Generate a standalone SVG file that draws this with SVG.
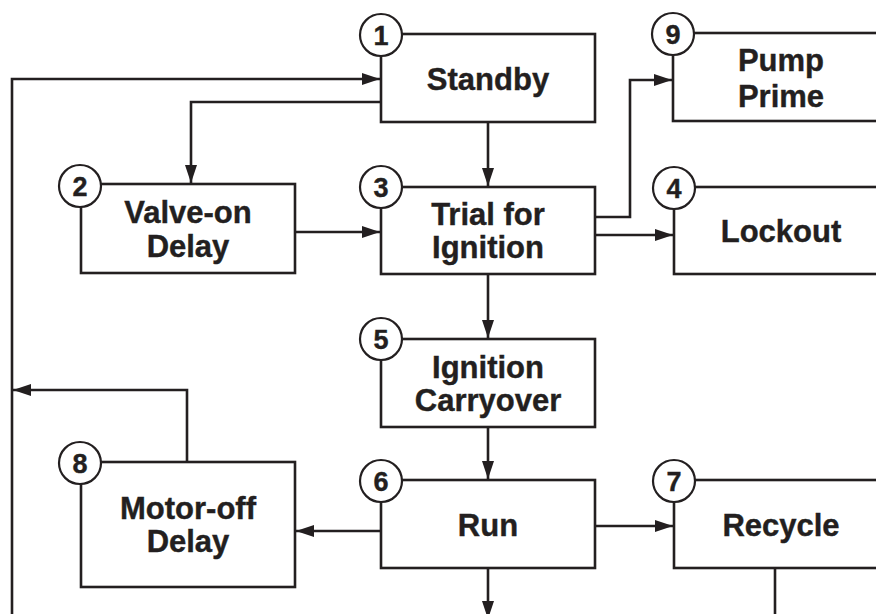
<svg xmlns="http://www.w3.org/2000/svg" width="876" height="614" viewBox="0 0 876 614">
  <style>
    .box { fill: #fff; stroke: #231f20; stroke-width: 2.6; }
    .num { fill: #fff; stroke: #231f20; stroke-width: 2.2; }
    .lbl { font-family: "Liberation Sans", Arial, sans-serif; font-weight: bold; font-size: 31px; fill: #231f20; stroke: #231f20; stroke-width: 0.4; text-anchor: middle; }
    .n { font-family: "Liberation Sans", Arial, sans-serif; font-weight: bold; font-size: 27px; fill: #231f20; stroke: #231f20; stroke-width: 0.4; text-anchor: middle; }
    .wire { fill: none; stroke: #231f20; stroke-width: 2.6; }
  </style>
  <defs>
    <marker id="ah" viewBox="0 0 18 12" refX="18" refY="6" markerWidth="18" markerHeight="12" markerUnits="userSpaceOnUse" orient="auto">
      <path d="M0,0 L18,6 L0,12 z" fill="#231f20"/>
    </marker>
  </defs>
  <rect width="876" height="614" fill="#fff"/>

  <g id="connectors">
    <path class="wire" d="M12,620 V79 H380" marker-end="url(#ah)"/>
    <path class="wire" d="M381,102 H191 V183" marker-end="url(#ah)"/>
    <path class="wire" d="M488,122 V186" marker-end="url(#ah)"/>
    <path class="wire" d="M295,232 H380" marker-end="url(#ah)"/>
    <path class="wire" d="M595,217 H630 V80 H672" marker-end="url(#ah)"/>
    <path class="wire" d="M595,235 H673" marker-end="url(#ah)"/>
    <path class="wire" d="M488,274 V338" marker-end="url(#ah)"/>
    <path class="wire" d="M488,427 V479" marker-end="url(#ah)"/>
    <path class="wire" d="M381,531 H296" marker-end="url(#ah)"/>
    <path class="wire" d="M187,462 V390 H13" marker-end="url(#ah)"/>
    <path class="wire" d="M595,526 H673" marker-end="url(#ah)"/>
    <path class="wire" d="M488,568 V619" marker-end="url(#ah)"/>
    <path class="wire" d="M775,568 V616"/>
  </g>

  <g id="node1">
    <rect class="box" x="381" y="34" width="214" height="88"/>
    <circle class="num" cx="381" cy="35" r="21"/>
    <text class="n" x="381" y="45">1</text>
    <text class="lbl" x="488" y="90">Standby</text>
  </g>
  <g id="node2">
    <rect class="box" x="81" y="184" width="214" height="89"/>
    <circle class="num" cx="80" cy="186" r="21"/>
    <text class="n" x="80" y="196">2</text>
    <text class="lbl" x="188" y="223">Valve-on</text>
    <text class="lbl" x="188" y="257">Delay</text>
  </g>
  <g id="node3">
    <rect class="box" x="381" y="187" width="214" height="87"/>
    <circle class="num" cx="381" cy="187" r="21"/>
    <text class="n" x="381" y="197">3</text>
    <text class="lbl" x="488" y="225">Trial for</text>
    <text class="lbl" x="488" y="258">Ignition</text>
  </g>
  <g id="node4">
    <rect class="box" x="674" y="187" width="214" height="87"/>
    <circle class="num" cx="674" cy="188" r="21"/>
    <text class="n" x="674" y="198">4</text>
    <text class="lbl" x="781" y="242">Lockout</text>
  </g>
  <g id="node5">
    <rect class="box" x="381" y="339" width="214" height="88"/>
    <circle class="num" cx="381" cy="339" r="21"/>
    <text class="n" x="381" y="349">5</text>
    <text class="lbl" x="488" y="378">Ignition</text>
    <text class="lbl" x="488" y="411">Carryover</text>
  </g>
  <g id="node6">
    <rect class="box" x="381" y="480" width="214" height="88"/>
    <circle class="num" cx="381" cy="481" r="21"/>
    <text class="n" x="381" y="491">6</text>
    <text class="lbl" x="488" y="536">Run</text>
  </g>
  <g id="node7">
    <rect class="box" x="674" y="480" width="214" height="88"/>
    <circle class="num" cx="674" cy="481" r="21"/>
    <text class="n" x="674" y="491">7</text>
    <text class="lbl" x="781" y="536">Recycle</text>
  </g>
  <g id="node8">
    <rect class="box" x="81" y="462" width="214" height="125"/>
    <circle class="num" cx="80" cy="463" r="21"/>
    <text class="n" x="80" y="473">8</text>
    <text class="lbl" x="188" y="519">Motor-off</text>
    <text class="lbl" x="188" y="552">Delay</text>
  </g>
  <g id="node9">
    <rect class="box" x="673" y="33" width="214" height="88"/>
    <circle class="num" cx="673" cy="34" r="21"/>
    <text class="n" x="673" y="44">9</text>
    <text class="lbl" x="781" y="71">Pump</text>
    <text class="lbl" x="781" y="107">Prime</text>
  </g>
</svg>
